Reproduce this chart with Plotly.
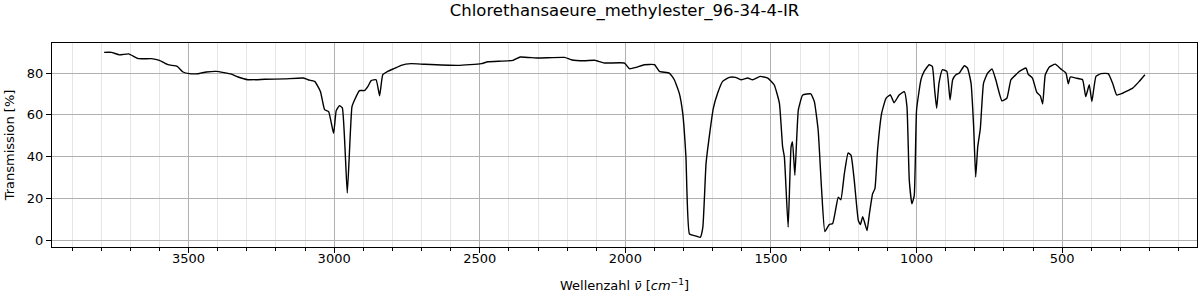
import plotly.graph_objects as go

wavenumber = [3790, 3765, 3737, 3706, 3672, 3628, 3600, 3571, 3539, 3519, 3497, 3468, 3439, 3405,
              3353, 3330, 3296, 3239, 3170, 3107, 3090, 3067, 3047, 3033, 3019, 3002, 2993, 2982,
              2972, 2955, 2939, 2930, 2913, 2896, 2884, 2873, 2856, 2844, 2833, 2816, 2793, 2770,
              2736, 2690, 2575, 2495, 2472, 2386, 2361, 2301, 2209, 2186, 2141, 2106, 2072, 2003,
              1986, 1963, 1935, 1900, 1883, 1849, 1832, 1815, 1803, 1792, 1780, 1763, 1743, 1734,
              1723, 1712, 1698, 1683, 1666, 1643, 1622, 1603, 1580, 1563, 1537, 1511, 1489, 1471,
              1460, 1454, 1441, 1431, 1426, 1418, 1406, 1391, 1363, 1351, 1338, 1326, 1315, 1300,
              1288, 1269, 1260, 1248, 1235, 1225, 1214, 1200, 1193, 1185, 1177, 1170, 1162, 1151,
              1143, 1134, 1120, 1105, 1090, 1077, 1060, 1042, 1033, 1025, 1016, 1008, 1000, 985,
              974, 957, 946, 938, 931, 923, 911, 896, 885, 876, 865, 853, 836, 825, 813, 804, 797,
              790, 781, 770, 756, 741, 728, 707, 690, 676, 659, 647, 624, 617, 602, 587, 575, 567,
              558, 544, 524, 504, 487, 479, 472, 453, 430, 419, 407, 398, 384, 367, 342, 327, 313,
              298, 258, 236, 216]
transmission = [89.9, 89.9, 88.7, 89.2, 86.9, 86.9, 86.1, 84.0, 83.2, 80.5, 79.7, 79.7, 80.5, 80.8,
                79.5, 78.1, 76.8, 77.0, 77.2, 77.6, 76.8, 76.0, 71.1, 62.5, 61.5, 51.1, 62.0, 64.4,
                63.3, 22.5, 63.8, 67.1, 71.6, 71.6, 73.6, 76.4, 76.8, 69.1, 79.2, 80.8, 82.2, 83.7,
                84.5, 84.2, 83.7, 84.5, 85.4, 86.1, 87.7, 87.2, 87.5, 86.4, 85.9, 86.1, 84.8, 84.8,
                82.1, 82.7, 84.0, 84.0, 80.8, 80.0, 76.8, 70.4, 60.7, 39.8, 2.9, 2.1, 1.3, 6.1,
                36.6, 49.4, 63.1, 70.4, 76.0, 77.9, 77.9, 76.8, 77.6, 76.8, 78.4, 77.6, 74.4, 65.5,
                44.6, 39.8, 6.1, 44.6, 47.0, 31.0, 62.3, 69.5, 70.0, 66.3, 52.7, 23.8, 4.1, 7.4,
                7.9, 20.5, 19.3, 31.8, 41.7, 40.6, 28.6, 9.3, 7.4, 11.2, 7.7, 4.5, 12.5, 22.2,
                24.6, 43.0, 60.7, 67.9, 69.5, 65.8, 69.5, 71.1, 63.9, 28.6, 17.3, 21.3, 62.3, 76.8,
                80.8, 84.0, 83.2, 72.0, 63.1, 75.2, 81.6, 80.8, 67.1, 76.8, 79.2, 80.0, 83.5, 82.4,
                75.2, 54.3, 30.2, 44.6, 53.5, 75.2, 80.0, 82.0, 76.8, 66.7, 67.9, 76.8, 79.2, 80.8,
                82.4, 79.5, 77.6, 70.7, 69.1, 65.2, 79.2, 82.9, 84.3, 81.9, 80.0, 74.8, 78.1, 77.6,
                76.8, 68.7, 74.4, 66.3, 78.4, 79.7, 79.7, 75.2, 69.5, 70.0, 72.8, 75.9, 79.2]

x_ticks = [3500, 3000, 2500, 2000, 1500, 1000, 500]
y_ticks = [0, 20, 40, 60, 80]
title = "Chlorethansaeure_methylester_96-34-4-IR"

fig = go.Figure()
fig.add_trace(go.Scatter(x=wavenumber, y=transmission, mode="lines",
                         line=dict(color="black", width=1.4, shape="spline", smoothing=0.4),
                         showlegend=False))

font = "DejaVu Sans"
fig.update_layout(
    width=1200, height=300,
    margin=dict(l=52, r=3, t=43, b=53),
    paper_bgcolor="white", plot_bgcolor="white",
    font=dict(family=font, size=13, color="black"),
    title=dict(text=title, xref="paper", x=0.5, xanchor="center",
               yref="container", y=0.967, yanchor="middle",
               font=dict(family=font, size=16.5, color="black")),
)
fig.update_xaxes(
    range=[3969, 37], tickvals=x_ticks, ticktext=[str(v) for v in x_ticks],
    showgrid=True, gridcolor="#b0b0b0", gridwidth=1,
    ticks="outside", ticklen=5, tickcolor="black", ticklabelstandoff=-6,
    showline=True, linecolor="black", linewidth=1, mirror=True, zeroline=False,
    minor=dict(dtick=100, tick0=0, showgrid=True, gridcolor="#e6e6e6", gridwidth=1,
               ticks="outside", ticklen=3, tickcolor="black"),
    title=dict(text="Wellenzahl <i>ν̄</i> [<i>cm</i><sup>−1</sup>]", standoff=16,
               font=dict(family=font, size=13)),
)
fig.update_yaxes(
    range=[-3.35, 94.4], tickvals=y_ticks,
    showgrid=True, gridcolor="#b0b0b0", gridwidth=1,
    ticks="outside", ticklen=5, tickcolor="black",
    showline=True, linecolor="black", linewidth=1, mirror=True, zeroline=False,
    title=dict(text="Transmission [%]", standoff=9, font=dict(family=font, size=13)),
)
fig.write_html("out.html")
